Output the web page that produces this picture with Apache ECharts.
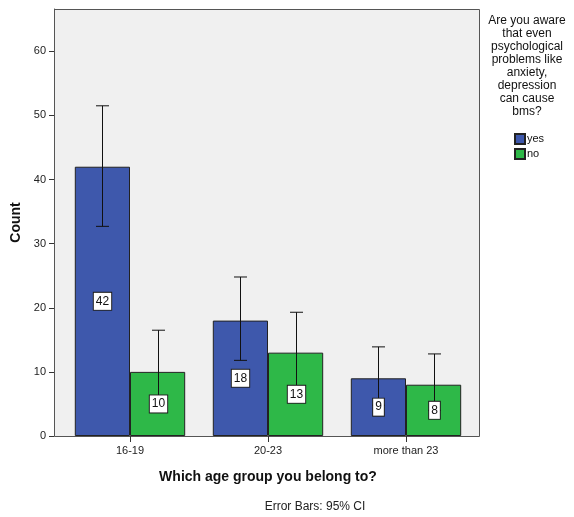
<!DOCTYPE html>
<html>
<head>
<meta charset="utf-8">
<script src="https://cdn.jsdelivr.net/npm/echarts@6/dist/echarts.min.js"></script>
<style>
html,body{margin:0;padding:0;background:#fff;}
#chart{width:574px;height:517px;}
</style>
</head>
<body>
<div id="chart"></div>
<script>
var categories = ['16-19', '20-23', 'more than 23'];
var seriesNames = ['yes', 'no'];
var yesCounts = [42, 18, 9];
var noCounts = [10, 13, 8];
var yesLow = [32.7, 11.8, 4.8];
var yesHigh = [51.5, 24.8, 13.9];
var noLow = [4.9, 6.7, 4.0];
var noHigh = [16.5, 19.3, 12.8];
var yTicks = [0, 10, 20, 30, 40, 50, 60];
var legendTitle = 'Are you aware\nthat even\npsychological\nproblems like\nanxiety,\ndepression\ncan cause\nbms?';

var FONT = 'Arial, "Liberation Sans", sans-serif';
var BLUE = '#3E58AC', GREEN = '#2EB848';

var errData = [];
for (var i = 0; i < categories.length; i++) {
  errData.push([i, 0, yesCounts[i], yesLow[i], yesHigh[i]]);
  errData.push([i, 1, noCounts[i], noLow[i], noHigh[i]]);
}

var chart = echarts.init(document.getElementById('chart'), null, {renderer: 'canvas'});
chart.setOption({
  animation: false,
  backgroundColor: '#fff',
  grid: {left: 61, right: 99, top: 9, bottom: 81, containLabel: false},
  graphic: {elements: [
    {type: 'rect', z: -10, silent: true,
     shape: {x: 54.5, y: 9.5, width: 425, height: 427},
     style: {fill: '#F0F0F0', stroke: '#555', lineWidth: 1}},
    {type: 'text', silent: true, x: 527, y: 14,
     style: {text: legendTitle, font: '12px ' + FONT, fill: '#111', align: 'center', verticalAlign: 'top', lineHeight: 13}},
    {type: 'text', silent: true, x: 315, y: 501,
     style: {text: 'Error Bars: 95% CI', font: '12px ' + FONT, fill: '#222', align: 'center'}}
  ]},
  legend: {
    data: seriesNames, orient: 'vertical', left: 514, top: 133, padding: 0, icon: 'rect',
    itemWidth: 10, itemHeight: 10, itemGap: 3,
    textStyle: {fontFamily: FONT, fontSize: 11, color: '#111', padding: [0, 0, 0, -3]}
  },
  xAxis: {
    type: 'category', data: categories,
    axisLine: {show: false},
    axisTick: {show: true, alignWithLabel: true, length: 6, lineStyle: {color: '#333'}},
    axisLabel: {fontFamily: FONT, fontSize: 11, color: '#222', margin: 9},
    name: 'Which age group you belong to?', nameLocation: 'middle', nameGap: 34,
    nameTextStyle: {fontFamily: FONT, fontSize: 14, fontWeight: 'bold', color: '#111'}
  },
  yAxis: {
    type: 'value', min: 0, max: 66.6, offset: 7,
    axisLine: {show: true, lineStyle: {color: '#555'}},
    axisTick: {show: true, length: 5, customValues: yTicks, lineStyle: {color: '#333'}},
    axisLabel: {fontFamily: FONT, fontSize: 11, color: '#222', margin: 8, customValues: yTicks},
    splitLine: {show: false},
    name: 'Count', nameLocation: 'middle', nameGap: 27,
    nameTextStyle: {fontFamily: FONT, fontSize: 14, fontWeight: 'bold', color: '#111'}
  },
  series: [
    {name: 'yes', type: 'bar', data: yesCounts, barGap: 0, barCategoryGap: '20%',
     itemStyle: {color: BLUE, borderColor: '#222', borderWidth: 1}},
    {name: 'no', type: 'bar', data: noCounts, barGap: 0, barCategoryGap: '20%',
     itemStyle: {color: GREEN, borderColor: '#222', borderWidth: 1}},
    {name: 'err', type: 'custom', data: errData, z: 5,
     encode: {x: 0, y: [2, 3, 4]},
     renderItem: function (params, api) {
       var c = api.value(0), g = api.value(1), v = api.value(2), lo = api.value(3), hi = api.value(4);
       var band = api.size([1, 0])[0];
       var bw = band * 0.8 / 2;
       var off = (g === 0 ? -1 : 1) * bw / 2;
       var pHi = api.coord([c, hi]), pLo = api.coord([c, lo]), pMid = api.coord([c, v / 2]);
       var x = Math.round(pHi[0] + off) + 0.5;
       var cap = 6.5;
       var ls = {stroke: '#111', lineWidth: 1};
       return {type: 'group', children: [
         {type: 'line', shape: {x1: x, y1: pHi[1], x2: x, y2: pLo[1]}, style: ls},
         {type: 'line', shape: {x1: x - cap, y1: pHi[1], x2: x + cap, y2: pHi[1]}, style: ls},
         {type: 'line', shape: {x1: x - cap, y1: pLo[1], x2: x + cap, y2: pLo[1]}, style: ls},
         {type: 'text', x: x, y: pMid[1],
          style: {text: String(v), font: '12px ' + FONT, fill: '#111', align: 'center', verticalAlign: 'middle',
                  backgroundColor: '#fff', borderColor: '#222', borderWidth: 1, padding: [3, 2, 2, 2]}}
       ]};
     }}
  ]
});
</script>
</body>
</html>
